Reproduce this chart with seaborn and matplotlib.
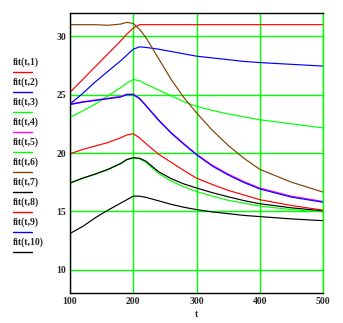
import numpy as np
import pandas as pd
import matplotlib
matplotlib.use("Agg")
import matplotlib.pyplot as plt
import seaborn as sns
from matplotlib.lines import Line2D

t = [100, 120, 140, 160, 180, 190, 200, 210, 220, 240, 260, 280, 300, 325, 350, 375, 400, 450, 500]

fit_1 = [25.2, 26.3, 27.4, 28.5, 29.6, 30.2, 30.7, 31.0, 31.0, 31.0, 31.0, 31.0, 31.0, 31.0, 31.0, 31.0, 31.0, 31.0, 31.0]
fit_2 = [24.2, 25.1, 26.1, 27.0, 27.9, 28.4, 28.9, 29.1, 29.05, 28.9, 28.7, 28.5, 28.3, 28.15, 28.0, 27.85, 27.75, 27.6, 27.45]
fit_3 = [23.06, 23.6, 24.2, 24.9, 25.6, 26.0, 26.3, 26.2, 25.9, 25.4, 24.9, 24.4, 24.0, 23.65, 23.35, 23.1, 22.85, 22.5, 22.15]
fit_4 = [24.2, 24.4, 24.55, 24.7, 24.85, 25.05, 25.05, 24.7, 24.1, 22.85, 21.75, 20.8, 19.9, 18.95, 18.2, 17.55, 17.0, 16.3, 15.85]
fit_5 = [17.4, 17.82, 18.17, 18.57, 19.07, 19.42, 19.57, 19.5, 19.2, 18.25, 17.6, 17.1, 16.7, 16.3, 15.95, 15.7, 15.45, 15.15, 14.95]
fit_6 = [31.0, 31.0, 31.0, 30.95, 31.05, 31.2, 31.1, 30.6, 29.9, 28.1, 26.3, 24.75, 23.45, 21.95, 20.65, 19.55, 18.6, 17.5, 16.65]
fit_7 = [17.43, 17.85, 18.2, 18.6, 19.1, 19.45, 19.6, 19.55, 19.3, 18.4, 17.8, 17.35, 17.0, 16.6, 16.25, 15.92, 15.65, 15.3, 15.05]
fit_8 = [19.93, 20.3, 20.6, 20.9, 21.3, 21.55, 21.65, 21.3, 20.8, 19.9, 19.2, 18.5, 17.85, 17.3, 16.8, 16.4, 16.0, 15.5, 15.1]
fit_9 = [24.15, 24.35, 24.5, 24.65, 24.8, 25.0, 25.0, 24.65, 24.05, 22.8, 21.7, 20.75, 19.85, 18.88, 18.12, 17.47, 16.92, 16.22, 15.78]
fit_10 = [13.1, 13.7, 14.45, 15.1, 15.7, 16.0, 16.3, 16.3, 16.2, 15.9, 15.6, 15.35, 15.15, 14.95, 14.8, 14.65, 14.55, 14.35, 14.2]

labels = ["fit(t,1)", "fit(t,2)", "fit(t,3)", "fit(t,4)", "fit(t,5)",
          "fit(t,6)", "fit(t,7)", "fit(t,8)", "fit(t,9)", "fit(t,10)"]
colors = ["#ff0000", "#0000ff", "#00ff00", "#ff00ff", "#00ff00",
          "#804000", "#000000", "#ff0000", "#0000ff", "#000000"]
series = [fit_1, fit_2, fit_3, fit_4, fit_5, fit_6, fit_7, fit_8, fit_9, fit_10]

xticks = [100, 200, 300, 400, 500]
yticks = [10, 15, 20, 25, 30]

rows = []
for lab, ys in zip(labels, series):
    for xv, yv in zip(t, ys):
        rows.append({"t": xv, "value": yv, "series": lab})
df = pd.DataFrame(rows)

sns.set_style("white")
W, H = 343, 323
fig = plt.figure(figsize=(W / 100, H / 100), dpi=100)
ax = fig.add_axes([70 / W, 1 - 293 / H, (323 - 70) / W, (293 - 13) / H])

sns.lineplot(data=df, x="t", y="value", hue="series", hue_order=labels,
             palette=colors, linewidth=0.85, legend=False, ax=ax)

ax.set_xlim(100, 500)
ax.set_ylim(8, 32)
ax.set_xticks(xticks)
ax.set_yticks(yticks)
ax.grid(True, color="#00ff00", linewidth=1.0)
ax.set_axisbelow(True)
for s in ["left", "bottom", "top"]:
    ax.spines[s].set_color("black")
    ax.spines[s].set_linewidth(1.0)
ax.spines["right"].set_color("#00ff00")
ax.spines["right"].set_linewidth(1.0)
ax.tick_params(length=0, pad=3)
tick_font = dict(family="Liberation Serif", weight="bold", size=7)
for lbl in ax.get_xticklabels() + ax.get_yticklabels():
    lbl.set_fontproperties(matplotlib.font_manager.FontProperties(**tick_font))
ax.set_xlabel("t", fontdict=tick_font, labelpad=3)
ax.set_ylabel("")

# legend on the left: label above a short coloured line
for i, (lab, col) in enumerate(zip(labels, colors)):
    ty = 62 + 20 * i
    fig.text(13 / W, 1 - ty / H, lab, ha="left", va="center",
             family="Liberation Serif", weight="bold", size=7)
    fig.add_artist(Line2D([13 / W, 32 / W], [1 - (ty + 10) / H, 1 - (ty + 10) / H],
                          color=col, linewidth=1.0, transform=fig.transFigure))

fig.savefig("out.png", dpi=100)
